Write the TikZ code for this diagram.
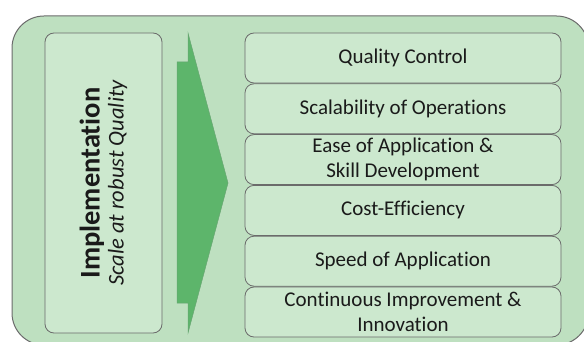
\documentclass[tikz,border=0pt]{standalone}
\usepackage{fontspec}
\setmainfont{Carlito}[Ligatures=NoCommon]
\usetikzlibrary{positioning}
\definecolor{outergreen}{HTML}{BEE0C0}
\definecolor{innergreen}{HTML}{CCE8CE}
\definecolor{arrowgreen}{HTML}{5DB56B}
\definecolor{framegray}{HTML}{6B6B6B}
\definecolor{textgray}{HTML}{1A1A1A}

\begin{document}
\begin{tikzpicture}[x=1pt,y=-1pt]
        \tikzstyle{panel}=[draw=framegray, fill=innergreen, rounded corners=9pt, line width=0.8pt]
        \tikzstyle{item}=[panel, minimum width=316pt, minimum height=50pt, inner sep=0pt, align=center, text=textgray, font=\fontsize{21}{25}\selectfont]
        \useasboundingbox (0,0) rectangle (584,342);
        \clip (0,0) rectangle (584,342);
        % background frame
        \draw[fill=outergreen, draw=framegray, line width=1pt, rounded corners=32pt] (12,16) rectangle (588.5,345);
        % left panel
        \node[panel, minimum width=117pt, minimum height=300pt] (impl) at (103.5,183) {};
        \node[rotate=90, align=center, text=textgray] (impltext) at (impl.center)
            {{\fontsize{28.5}{30}\selectfont\bfseries Implementation}\\[3pt]{\fontsize{22.5}{24}\selectfont\itshape Scale at robust Quality}};
        % arrow
        \draw[fill=arrowgreen, draw=arrowgreen!70!gray, line width=0.5pt]
            (177,62) -- (188,62) -- (188,33) -- (228,183) -- (188,333) -- (188,303) -- (177,303) -- cycle;
        % right column
        \node[item] (quality) at (403,58) {Quality Control};
        \node[item, below=0pt of quality] (scaling) {Scalability of Operations};
        \node[item, below=0pt of scaling] (ease) {Ease of Application \&\\Skill Development};
        \node[item, below=0pt of ease] (cost) {Cost-Efficiency};
        \node[item, below=0pt of cost] (speed) {Speed of Application};
        \node[item, below=0pt of speed] (improve) {Continuous Improvement \&\\Innovation};
\end{tikzpicture}
\end{document}
